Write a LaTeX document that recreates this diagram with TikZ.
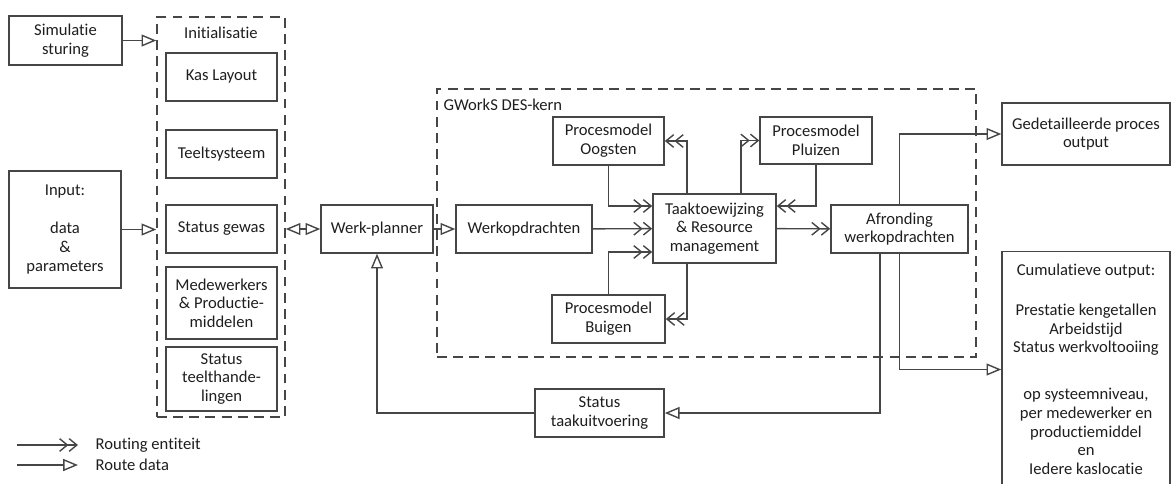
\documentclass[tikz,border=0pt]{standalone}
\usepackage{fontspec}
\setmainfont{Carlito}[Ligatures=NoCommon]
\usepackage{tikz}
\usetikzlibrary{arrows.meta, positioning, calc}
\definecolor{linecol}{RGB}{70,70,70}
\definecolor{textcol}{RGB}{30,30,30}

\begin{document}
\begin{tikzpicture}[
    x=0.025cm, y=-0.025cm,
    font=\fontsize{11.8}{13.3}\selectfont,
    box/.style={draw=linecol, line width=1pt, align=center, inner sep=1pt, text=textcol, minimum height=1.2cm},
    frame/.style={draw=linecol, line width=1pt, dash pattern=on 7pt off 4.5pt},
    entarrow/.style={draw=linecol, line width=1pt, -{Straight Barb[length=5.5pt,width=9pt]Straight Barb[length=5.5pt,width=9pt]}},
    datarrow/.style={draw=linecol, line width=1pt, -{Triangle[open,length=10.5pt,width=8.5pt]}},
    bidarrow/.style={draw=linecol, line width=1pt, {Triangle[open,length=10.5pt,width=8.5pt]}-{Triangle[open,length=10.5pt,width=8.5pt]}},
    labelstyle/.style={text=textcol, inner sep=1pt}
]
    \useasboundingbox (0,0) rectangle (1171,483);

    % Left column: control and input
    \node[box, minimum width=2.83cm, minimum height=1.23cm] (sim) at (65.5,40.5) {Simulatie\\sturing};
    \node[box, minimum width=2.8cm, minimum height=2.93cm] (input) at (65,229.5) {Input:\\[14pt]data\\\&\\parameters};

    % Initialisatie block
    \node[frame, minimum width=3.2cm, minimum height=10cm] (init) at (221,217) {};
    \node[labelstyle] (inittitle) at (221,33) {Initialisatie};
    \node[box, minimum width=2.78cm] (kas) at (221.5,77) {Kas Layout};
    \node[box, minimum width=2.78cm] (teelt) at (221.5,154) {Teeltsysteem};
    \node[box, minimum width=2.78cm] (gewas) at (221.5,229) {Status gewas};
    \node[box, minimum width=2.78cm, minimum height=1.8cm] (medew) at (221.5,303) {Medewerkers\\\& Productie-\\middelen};
    \node[box, minimum width=2.78cm, minimum height=1.6cm] (stthl) at (221.5,379) {Status\\teelthande-\\lingen};

    % Planner and DES kernel
    \node[box, minimum width=2.8cm] (planner) at (377,229) {Werk-planner};
    \node[frame, minimum width=13.48cm, minimum height=6.7cm] (des) at (706.5,223) {};
    \node[labelstyle, anchor=west] (destitle) at (442,105) {GWorkS DES-kern};
    \node[box, minimum width=3.4cm] (werkopd) at (524,229) {Werkopdrachten};
    \node[box, minimum width=2.78cm] (oogst) at (608.5,141) {Procesmodel\\Oogsten};
    \node[box, minimum width=3.08cm, minimum height=1.73cm] (taak) at (714.5,228.5) {Taaktoewijzing\\\& Resource\\management};
    \node[box, minimum width=2.83cm] (buigen) at (608.5,319) {Procesmodel\\Buigen};
    \node[box, minimum width=2.8cm, minimum height=1.18cm] (pluizen) at (816,140.5) {Procesmodel\\Pluizen};
    \node[box, minimum width=3.43cm] (afrond) at (899.5,229) {Afronding\\werkopdrachten};
    \node[box, minimum width=3.23cm] (taakst) at (599.5,413) {Status\\taakuitvoering};

    % Outputs
    \node[box, minimum width=4.2cm, minimum height=1.55cm] (gedet) at (1086,134) {Gedetailleerde proces\\output};
    \node[box, minimum width=4.2cm, minimum height=5.9cm] (cumul) at (1086,369.5) {Cumulatieve output:\\[15pt]Prestatie kengetallen\\Arbeidstijd\\Status werkvoltooiing\\[20pt]op systeemniveau,\\per medewerker en\\productiemiddel\\en\\Iedere kaslocatie};

    % Data routes
    \draw[datarrow] (sim) -- (sim -| init.west);
    \draw[datarrow] (input) -- (input -| init.west);
    \draw[bidarrow] (init.east |- planner) -- (planner);
    \draw[datarrow] (planner) -- (werkopd);
    \draw[datarrow] (afrond.north) |- (gedet.west);
    \draw[datarrow] (afrond.south) |- (cumul.west);
    \draw[datarrow] ($(afrond.south)+(-19.5,0)$) |- (taakst.east);
    \draw[datarrow] (taakst.west) -| (planner.south);

    % Entity routes
    \draw[entarrow] (werkopd) -- (taak);
    \draw[entarrow] (oogst.south) |- ($(taak.west)+(0,-22.5)$);
    \draw[entarrow] (buigen.north) |- ($(taak.west)+(0,23.5)$);
    \draw[entarrow] (pluizen.south) |- ($(taak.east)+(0,-22.5)$);
    \draw[entarrow] ($(taak.north)+(-27.5,0)$) |- (oogst.east);
    \draw[entarrow] ($(taak.north)+(26.5,0)$) |- (pluizen.west);
    \draw[entarrow] ($(taak.south)+(-27.5,0)$) |- (buigen.east);
    \draw[entarrow] (taak) -- (afrond);

    % Legend
    \coordinate (lgstart1) at (17,445);
    \coordinate (lgend1) at (78,445);
    \coordinate (lgstart2) at (17,465);
    \coordinate (lgend2) at (78,465);
    \draw[entarrow] (lgstart1) -- (lgend1);
    \draw[datarrow] (lgstart2) -- (lgend2);
    \node[labelstyle, anchor=west] (lgent) at (94,445) {Routing entiteit};
    \node[labelstyle, anchor=west] (lgdata) at (94,465) {Route data};
\end{tikzpicture}
\end{document}
